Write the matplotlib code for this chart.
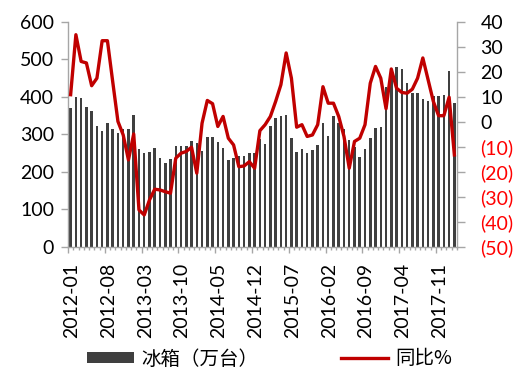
import matplotlib
matplotlib.use("Agg")
import matplotlib.pyplot as plt
import matplotlib.transforms as mtransforms
import numpy as np

# ---- data ----
months = [f"{y}-{m:02d}" for y in range(2012, 2019) for m in range(1, 13)][:74]

fridge = [369, 398, 396, 372, 362, 322, 309, 329, 315, 304, 313, 313,
          352, 260, 249, 253, 264, 236, 222, 234, 269, 269, 269, 281,
          277, 255, 292, 293, 280, 262, 230, 237, 242, 242, 249, 250,
          287, 274, 322, 343, 348, 350, 289, 253, 261, 251, 258, 271,
          331, 295, 349, 329, 315, 285, 267, 238, 260, 290, 316, 318,
          426, 452, 480, 473, 436, 410, 410, 394, 389, 403, 403, 404,
          469, 384]

yoy = [10.8, 34.8, 24.1, 23.5, 14.4, 17.4, 32.4, 32.4, 16.1, 0.1, -5.3, -15.3,
       -4.9, -35.3, -37.3, -31.3, -27.0, -27.3, -28.0, -28.6, -14.6, -12.6, -11.9, -10.2,
       -20.6, -0.6, 8.5, 7.2, -1.9, 2.1, -6.6, -9.3, -18.0, -17.7, -16.0, -18.6,
       -3.6, -1.2, 2.1, 8.1, 14.8, 27.5, 17.4, -2.2, -1.2, -5.9, -5.3, -1.2,
       14.0, 7.4, 7.4, 2.1, -5.9, -18.6, -7.9, -6.6, -1.2, 15.4, 22.1, 17.4,
       5.2, 21.1, 13.4, 11.7, 11.4, 13.0, 17.4, 25.5, 16.8, 8.1, 2.4, 2.4,
       9.8, -13.3]

label_step = 7
left_ticks = [0, 100, 200, 300, 400, 500, 600]
right_ticks = [-50, -40, -30, -20, -10, 0, 10, 20, 30, 40]

bar_label = "冰箱（万台）"
line_label = "同比%"

# ---- style ----
plt.rcParams['font.family'] = ['Lato', 'Noto Sans CJK SC', 'DejaVu Sans']
spine_col = '#a6a6a6'
bar_col = '#3f3f3f'
line_col = '#c00000'

fig = plt.figure(figsize=(5.2, 3.74), dpi=100)
ax = fig.add_axes([68/520, 1 - 246.7/374, (457-68)/520, (246.7-21.7)/374])
ax2 = ax.twinx()

x = np.arange(len(months))
ax.bar(x, fridge, width=0.48, color=bar_col, label=bar_label, zorder=2)
ax2.plot(x, yoy, color=line_col, lw=2.4, label=line_label, zorder=3)

n = len(months)
ax.set_xlim(-0.5, n - 0.5)
ax.set_ylim(0, 600)
ax2.set_ylim(-50, 40)

for a in (ax, ax2):
    a.spines['top'].set_visible(False)
    for s in ('left', 'right', 'bottom'):
        a.spines[s].set_color(spine_col)
        a.spines[s].set_linewidth(1.0)
ax.spines['right'].set_visible(False)
ax2.spines['left'].set_visible(False)
ax2.spines['bottom'].set_visible(False)

# left axis
ax.set_yticks(left_ticks)
ax.set_yticklabels([str(v) for v in left_ticks])
ax.tick_params(axis='y', direction='out', length=5, width=1, color=spine_col,
               labelsize=14, pad=5, labelcolor='black')

# right axis
ax2.set_yticks(right_ticks)
ax2.set_yticklabels([str(v) if v >= 0 else f"({-v})" for v in right_ticks])
ax2.tick_params(axis='y', direction='out', length=6, width=1, color=spine_col,
                labelsize=14, pad=11)
for t, v in zip(ax2.get_yticklabels(), right_ticks):
    t.set_color('black' if v >= 0 else '#ff0000')

# x axis: long ticks at labelled category boundaries, labels shifted to the category centre
lab_idx = [i for i in range(0, n, label_step)]
ax.set_xticks([i - 0.5 for i in lab_idx])
ax.set_xticklabels([months[i] for i in lab_idx], rotation=90)
ax.tick_params(axis='x', which='major', direction='out', length=4.5, width=1,
               color=spine_col, labelsize=14, pad=7)
ax.set_xticks(np.arange(-0.5, n, 1.0), minor=True)
ax.tick_params(axis='x', which='minor', direction='out', length=2.5, width=1,
               color=spine_col)
ax2.tick_params(axis='x', which='both', bottom=False, top=False,
                labelbottom=False, labeltop=False)
fig.canvas.draw()
half_cat_in = (ax.get_position().width * 5.2) / n / 2
shift = mtransforms.ScaledTranslation(half_cat_in + 0.01, 0, fig.dpi_scale_trans)
for t in ax.get_xticklabels():
    t.set_transform(t.get_transform() + shift)

# legend
h1, l1 = ax.get_legend_handles_labels()
h2, l2 = ax2.get_legend_handles_labels()
leg = fig.legend(h1 + h2, l1 + l2, loc='center left',
                 bbox_to_anchor=(87/520, 1 - 359/374), ncol=2, frameon=False,
                 prop={'family': ['Noto Sans CJK SC', 'DejaVu Sans'], 'size': 14},
                 handlelength=2.4, handleheight=0.55, handletextpad=0.4,
                 columnspacing=4.25, borderpad=0, borderaxespad=0)

fig.savefig('out.png', dpi=100)
